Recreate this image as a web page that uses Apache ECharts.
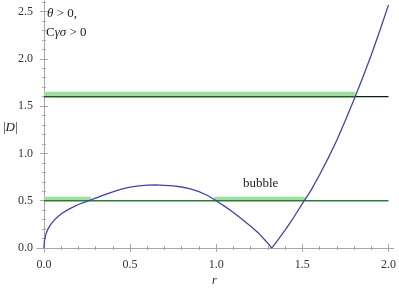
<!DOCTYPE html>
<html>
<head>
<meta charset="utf-8">
<script src="https://cdn.jsdelivr.net/npm/echarts@6/dist/echarts.min.js"></script>
<style>html,body{margin:0;padding:0;background:#fff}#c{width:399px;height:291px}</style>
</head>
<body>
<div id="c"></div>
<script>
// ---- data ----
const rValues = [0, 0.003, 0.008, 0.015, 0.025, 0.04, 0.06, 0.08, 0.1, 0.13, 0.16, 0.2, 0.25, 0.3, 0.35, 0.4, 0.45, 0.5, 0.55, 0.6, 0.65, 0.7, 0.75, 0.8, 0.85, 0.9, 0.95, 1.0, 1.05, 1.1, 1.15, 1.2, 1.25, 1.3, 1.322, 1.35, 1.4, 1.45, 1.5, 1.55, 1.6, 1.65, 1.7, 1.75, 1.8, 1.85, 1.9, 1.95, 2.0];
const absD = [0, 0.07, 0.12, 0.165, 0.205, 0.25, 0.295, 0.33, 0.36, 0.395, 0.425, 0.46, 0.493, 0.527, 0.561, 0.594, 0.622, 0.643, 0.658, 0.665, 0.667, 0.663, 0.656, 0.645, 0.626, 0.597, 0.555, 0.5, 0.44, 0.376, 0.305, 0.23, 0.15, 0.05, 0, 0.065, 0.19, 0.325, 0.47, 0.61, 0.775, 0.95, 1.14, 1.35, 1.57, 1.8, 2.04, 2.3, 2.57];

const upperLevel = 1.6;
const lowerLevel = 0.5;
const upperBand = [[0, 1.625], [1.807, 1.625]];
const lowerBands = [[[0, 0.52], [0.272, 0.52]], [[0.988, 0.52], [1.514, 0.52]]];
const upperLineGreen = [[0, upperLevel], [1.807, upperLevel]];
const upperLineBlack = [[1.807, upperLevel], [2, upperLevel]];
const lowerLine = [[0, lowerLevel], [2, lowerLevel]];

const xMajor = [0, 0.5, 1, 1.5, 2];
const xMinor = [0.1,0.2,0.3,0.4,0.6,0.7,0.8,0.9,1.1,1.2,1.3,1.4,1.6,1.7,1.8,1.9];
const yMajor = [0, 0.5, 1, 1.5, 2, 2.5];
const yMinor = [0.1,0.2,0.3,0.4,0.6,0.7,0.8,0.9,1.1,1.2,1.3,1.4,1.6,1.7,1.8,1.9,2.1,2.2,2.3,2.4,2.6];

const xMin = -0.04, xMax = 2.03, yMin = -0.042, yMax = 2.611;

const serif = '"Liberation Serif", "DejaVu Serif", serif';
const frameColor = '#a6a6a6';

function mkAxis(pos, vals, len, labels, isX) {
  return {
    type: 'value', min: isX ? xMin : yMin, max: isX ? xMax : yMax, position: pos,
    axisLine: { show: labels, lineStyle: { color: frameColor, width: 1 } },
    axisTick: { show: true, inside: true, length: len, customValues: vals, lineStyle: { color: frameColor, width: 1 } },
    axisLabel: labels && (pos === 'bottom' || pos === 'left') ? {
      show: true, customValues: vals, formatter: v => v.toFixed(1),
      fontFamily: serif, fontSize: 12, color: '#333', margin: isX ? 7 : 4
    } : { show: false },
    splitLine: { show: false }
  };
}

const chart = echarts.init(document.getElementById('c'), null, { renderer: 'canvas' });
const lineSeries = (data, color, width, z) => ({
  type: 'line', data, showSymbol: false, symbol: 'none', silent: true, z,
  lineStyle: { color, width }, animation: false
});
const rich = {
  i: { fontStyle: 'italic', fontFamily: serif, fontSize: 13, fill: '#222' },
  n: { fontFamily: serif, fontSize: 13, fill: '#222' }
};

chart.setOption({
  animation: false,
  grid: { left: 37, right: 4, top: 1, bottom: 39, containLabel: false },
  xAxis: [
    mkAxis('bottom', xMajor, 4, true, true),
    mkAxis('bottom', xMinor, 2, false, true),
    mkAxis('top', xMajor, 4, true, true),
    mkAxis('top', xMinor, 2, false, true)
  ],
  yAxis: [
    mkAxis('left', yMajor, 4, true, false),
    mkAxis('left', yMinor, 2, false, false),
    mkAxis('right', yMajor, 4, true, false),
    mkAxis('right', yMinor, 2, false, false)
  ],
  series: [
    lineSeries(upperBand, '#a3dca0', 5, 1),
    lineSeries(lowerBands[0], '#a3dca0', 4, 1),
    lineSeries(lowerBands[1], '#a3dca0', 4, 1),
    lineSeries(upperLineGreen, '#1e5e1e', 1.5, 2),
    lineSeries(upperLineBlack, '#0d1f0d', 1.2, 2),
    lineSeries(lowerLine, '#2e7a2e', 1.5, 2),
    lineSeries(rValues.map((r, i) => [r, absD[i]]), '#4444a6', 1.3, 3)
  ],
  graphic: [
    { type: 'text', left: 47, top: 7, style: { rich, text: '{i|θ}{n| > 0,}' } },
    { type: 'text', left: 46, top: 26, style: { rich, text: '{n|C}{i|γσ}{n| > 0}' } },
    { type: 'text', left: 243, top: 177, style: { text: 'bubble', fontFamily: serif, fontSize: 13, fill: '#222' } },
    { type: 'text', left: 3, top: 121, style: { rich, text: '{n||}{i|D}{n||}' } },
    { type: 'text', left: 212, top: 275, style: { text: 'r', fontStyle: 'italic', fontFamily: serif, fontSize: 12, fill: '#222' } }
  ]
});
</script>
</body>
</html>
